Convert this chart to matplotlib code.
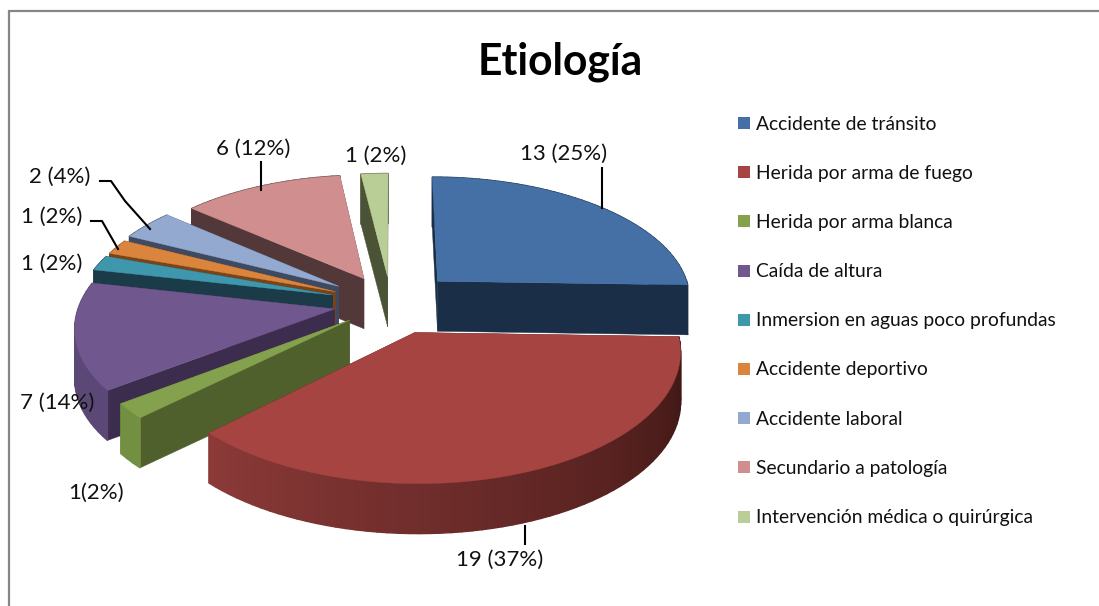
#--Exploded 3D pie chart "Etiologia", drawn by hand with a small perspective projection

import numpy as np
import matplotlib
matplotlib.use("Agg")
import matplotlib.pyplot as plt
from matplotlib.colors import to_rgb

plt.rcParams['font.family'] = ['Lato', 'DejaVu Sans']

#--Data
categories = ["Accidente de tránsito", "Herida por arma de fuego", "Herida por arma blanca",
              "Caída de altura", "Inmersion en aguas poco profundas", "Accidente deportivo",
              "Accidente laboral", "Secundario a patología", "Intervención médica o quirúrgica"]
values = [13, 19, 1, 7, 1, 1, 2, 6, 1]
labels = ["13 (25%)", "19 (37%)", "1(2%)", "7 (14%)", "1 (2%)", "1 (2%)", "2 (4%)", "6 (12%)", "1 (2%)"]

#--Styles
top_col = ["#4470A5", "#A64441", "#84A24D", "#70578E", "#3F97AE", "#DB843D", "#93A9CF", "#D08F8E", "#B9CD96"]
face_col = ["#1B2E47", "#4A1B19", "#50602D", "#3C2D4F", "#1A3B47", "#7A4419", "#3F4A60", "#533839", "#4A5336"]
wall_a = ["#1B2E47", "#8C3A38", "#728F42", "#5C4877", "#1A3B47", "#7A4419", "#3F4A60", "#533839", "#4A5336"]
wall_b = ["#1B2E47", "#3A1513", "#728F42", "#5C4877", "#1A3B47", "#7A4419", "#3F4A60", "#533839", "#4A5336"]
explode = [0.26, 0.25, 0.21, 0.225, 0.24, 0.24, 0.25, 0.23, 0.22]
order = [8, 7, 6, 5, 4, 3, 2, 0, 1]

#--Projection
cx, cy = 391., 303.
R, kR, p = 255., 123., 0.13
zh = 50.

def proj(X, Y, z=0.):
  f = 1./(1. + p*Y)
  return cx + R*X*f, cy - kR*Y*f + z

#--Slice angles, clockwise from the top
frac = np.array(values)/sum(values)
a1 = 2*np.pi*np.cumsum(frac)
a0 = a1 - 2*np.pi*frac

fig = plt.figure(figsize=(10.99, 6.06), dpi=100)
ax = fig.add_axes([0, 0, 1, 1])
ax.set_xlim(0, 1099)
ax.set_ylim(606, 0)
ax.axis('off')

#--Frame
ax.plot([9, 9, 1099], [606, 11, 11], color="#868686", lw=1.6, solid_joinstyle='miter')

#--Slices, back to front
for i in order:
  mid = 0.5*(a0[i] + a1[i])
  ox, oy = explode[i]*np.sin(mid), explode[i]*np.cos(mid)
  th = np.linspace(a0[i], a1[i], max(int(np.degrees(a1[i]-a0[i])/2), 2) + 1)
  ux, uy = ox + np.sin(th), oy + np.cos(th)
  x_top, y_top = proj(ux, uy)
  x_bot, y_bot = proj(ux, uy, zh)
  xa, ya = proj(ox, oy)
  xb, yb = proj(ox, oy, zh)
  #--Radial faces
  ax.fill([xa, x_top[0], x_bot[0], xb], [ya, y_top[0], y_bot[0], yb], color=face_col[i], lw=0.3)
  ax.fill([xa, x_top[-1], x_bot[-1], xb], [ya, y_top[-1], y_bot[-1], yb], color=face_col[i], lw=0.3)
  #--Outer wall, shaded along the arc
  ca, cb = np.array(to_rgb(wall_a[i])), np.array(to_rgb(wall_b[i]))
  for j in np.argsort(-y_top[:-1])[::-1]:
    s = 1. - (j + 0.5)/(len(th) - 1)
    c = ca + (cb - ca)*s
    ax.fill([x_top[j], x_top[j+1], x_bot[j+1], x_bot[j]],
            [y_top[j], y_top[j+1], y_bot[j+1], y_bot[j]], color=c, lw=1.0)
  #--Top
  ax.fill(np.r_[xa, x_top], np.r_[ya, y_top], color=top_col[i], lw=0.3)

#--Data labels
label_xy = [(564, 154), (500, 560), (96, 493), (57, 403), (52, 264), (52, 217), (60, 177), (253, 149), (376, 156)]
for t, (lx, ly) in zip(labels, label_xy):
  ax.text(lx, ly, t, ha='center', va='center', fontsize=16, color="#111111")

#--Leader lines
ax.plot([602, 602], [168, 208], color="k", lw=1.5)
ax.plot([261, 261], [162, 190], color="k", lw=1.5)
ax.plot([525, 525], [526, 544], color="k", lw=1.5)
ax.plot([100, 111, 125, 150], [181, 181, 201, 229], color="k", lw=1.5)
ax.plot([91, 102, 118], [221, 221, 249], color="k", lw=1.5)

#--Legend
for i, name in enumerate(categories):
  y = 123 + i*49.2
  ax.fill([738, 750, 750, 738], [y-6, y-6, y+6, y+6], color=top_col[i], lw=0)
  ax.text(756, y+1, name, ha='left', va='center', fontsize=13.9, color="#111111")

#--Title
ax.text(560, 62, "Etiología", ha='center', va='center', fontsize=30.7, fontweight='bold', color="k")

fig.savefig("out.png", dpi=100)
